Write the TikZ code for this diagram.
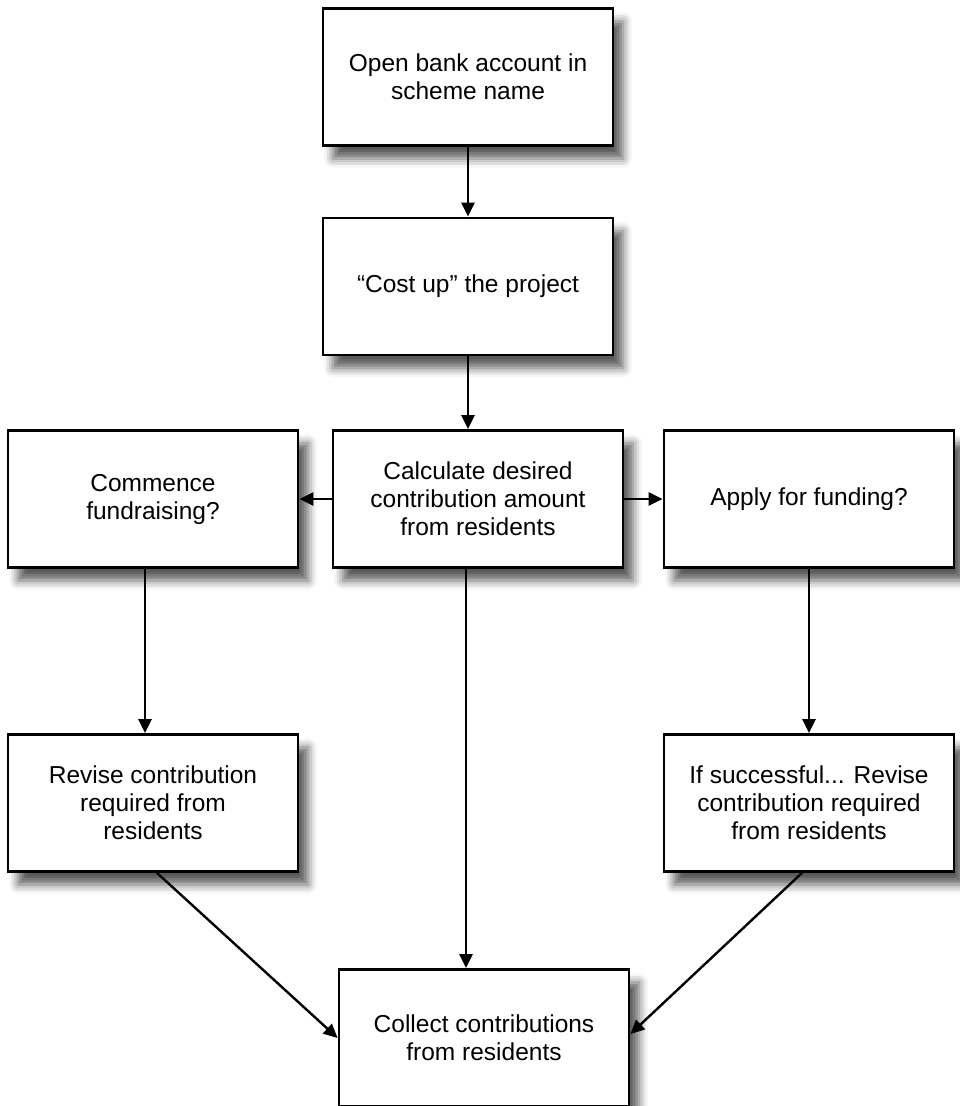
\documentclass[tikz,border=0pt]{standalone}
\usepackage{fontspec}
\setmainfont{Liberation Sans}
\usetikzlibrary{arrows.meta,shadows.blur}
\begin{document}
\begin{tikzpicture}[x=1pt,y=-1pt,
  box/.style={draw=black, line width=2.8pt, fill=white, minimum width=290pt, minimum height=137pt,
    align=center, font=\fontsize{24.5}{28}\selectfont, inner sep=0pt,
    blur shadow={shadow xshift=10pt, shadow yshift=-13pt, shadow blur radius=9pt, shadow opacity=65}},
  arr/.style={line width=2.4pt, -{Triangle[length=14pt,width=13pt]}}]
\useasboundingbox (0,0) rectangle (959,1106);
\node[box] (b1) at (468,77) {Open bank account in\\scheme name};
\node[box] (b2) at (468,286.5) {\textquotedblleft Cost up\textquotedblright\ the project};
\node[box] (bc) at (478,499) {Calculate desired\\contribution amount\\from residents};
\node[box] (bl) at (153,499) {Commence\\fundraising?};
\node[box] (br) at (809,499) {Apply for funding?};
\node[box] (rl) at (153,803) {Revise contribution\\required from\\residents};
\node[box] (rr) at (809,803) {If successful... Revise\\contribution required\\from residents};
\node[box] (bb) at (484,1038) {Collect contributions\\from residents};
\draw[arr] (b1.south) -- (b2.north);
\draw[arr] (b2.south) -- (b2.south |- bc.north);
\draw[arr] (bc.west) -- (bl.east);
\draw[arr] (bc.east) -- (br.west);
\draw[arr] ([xshift=-8pt]bl.south) -- ([xshift=-8pt]rl.north);
\draw[arr] (br.south) -- (rr.north);
\draw[arr] ([xshift=-12pt]bc.south) -- ([xshift=-18pt]bb.north);
\draw[arr] ([xshift=4pt]rl.south) -- (bb.west);
\draw[arr] ([xshift=-7pt]rr.south) -- ([yshift=4pt]bb.east);
\end{tikzpicture}
\end{document}
